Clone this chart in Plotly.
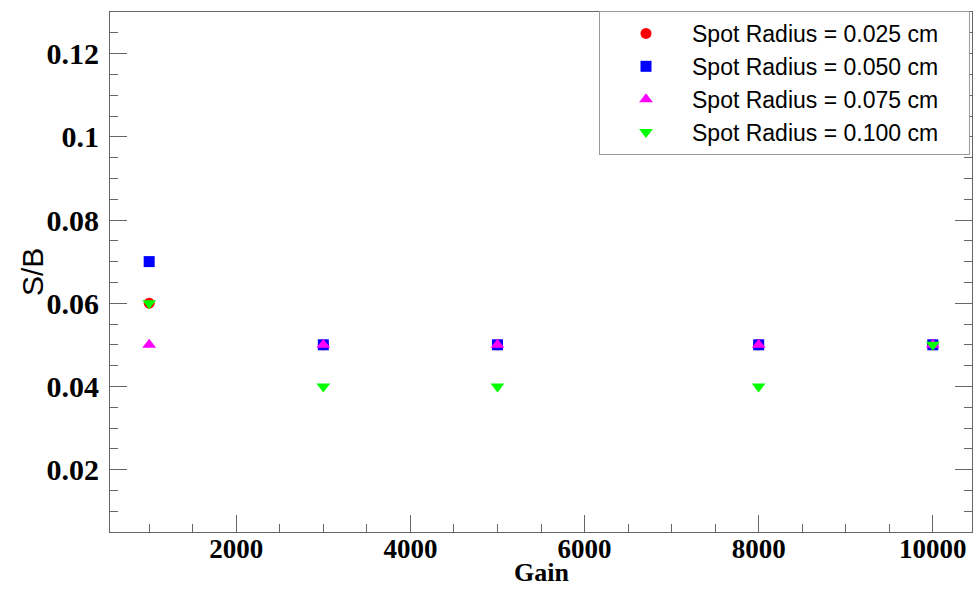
import plotly.graph_objects as go

gain = [1000, 3000, 5000, 8000, 10000]
sb_r025 = [0.06, 0.05, 0.05, 0.05, 0.05]
sb_r050 = [0.07, 0.05, 0.05, 0.05, 0.05]
sb_r075 = [0.05, 0.05, 0.05, 0.05, 0.05]
sb_r100 = [0.06, 0.04, 0.04, 0.04, 0.05]

pad = "\u00a0" * 4
series = [
    ("Spot Radius = 0.025 cm" + pad, sb_r025, "circle", "#ff0000", 11),
    ("Spot Radius = 0.050 cm" + pad, sb_r050, "square", "#0000ff", 11),
    ("Spot Radius = 0.075 cm" + pad, sb_r075, "triangle-up", "#ff00ff", 12),
    ("Spot Radius = 0.100 cm" + pad, sb_r100, "triangle-down", "#00ff00", 12),
]

fig = go.Figure()
for name, ys, sym, col, sz in series:
    fig.add_trace(go.Scatter(
        x=gain, y=ys, mode="markers", name=name,
        marker=dict(symbol=sym, color=col, size=sz, line=dict(width=0)),
    ))

axis_line = "#666666"
fig.update_layout(
    width=975, height=590,
    margin=dict(l=110, r=3, t=12, b=58, autoexpand=False),
    paper_bgcolor="white", plot_bgcolor="white",
    showlegend=True,
    legend=dict(
        x=(599 - 110) / 862, y=1.002, xanchor="left", yanchor="top",
        bgcolor="white", bordercolor="#999999", borderwidth=1,
        font=dict(family="Liberation Sans, Arial, sans-serif", size=23, color="black"),
        itemwidth=82,
        traceorder="normal",
    ),
    xaxis=dict(
        range=[550, 10450], automargin=False,
        tickmode="linear", tick0=0, dtick=2000, tickformat="d",
        ticks="inside", ticklen=17, tickcolor=axis_line, tickwidth=1,
        minor=dict(ticks="inside", ticklen=8, dtick=500, tick0=0, tickcolor=axis_line),
        showline=True, linecolor=axis_line, linewidth=1, mirror=True,
        showgrid=False, zeroline=False,
        ticklabelstandoff=-7,
        tickfont=dict(family="Liberation Serif, Times New Roman, serif", size=27, color="black", weight="bold"),
    ),
    yaxis=dict(
        range=[0.005, 0.13], automargin=False,
        tickmode="array", tickvals=[0.02, 0.04, 0.06, 0.08, 0.1, 0.12],
        ticktext=["0.02", "0.04", "0.06", "0.08", "0.1", "0.12"],
        ticks="inside", ticklen=17, tickcolor=axis_line, tickwidth=1,
        minor=dict(ticks="inside", ticklen=8, dtick=0.005, tick0=0, tickcolor=axis_line),
        showline=True, linecolor=axis_line, linewidth=1, mirror="ticks",
        showgrid=False, zeroline=False,
        ticklabelstandoff=4,
        tickfont=dict(family="Liberation Serif, Times New Roman, serif", size=30, color="black", weight="bold"),
    ),
    annotations=[
        dict(
            text="S/B", textangle=-90, showarrow=False,
            xref="paper", yref="paper", x=(32 - 110) / 862, y=0.5,
            xanchor="center", yanchor="middle",
            font=dict(family="Liberation Sans, Arial, sans-serif", size=30, color="black"),
        ),
        dict(
            text="<b>Gain</b>", showarrow=False,
            xref="paper", yref="paper", x=0.5, y=-(572 - 532) / 520,
            xanchor="center", yanchor="middle", borderpad=0,
            font=dict(family="Liberation Serif, Times New Roman, serif", size=26, color="black"),
        ),
    ],
)

fig.write_html("out.html")
